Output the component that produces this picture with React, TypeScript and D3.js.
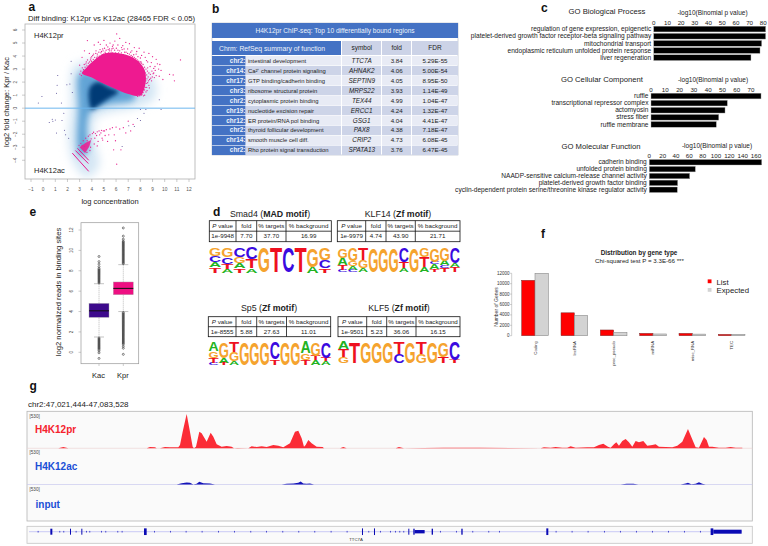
import React from "react";
import * as d3 from "d3";

const SANS = "'Liberation Sans', Arial, sans-serif";

// ---------- panel a ----------
const maXTicks = [-1, 0, 1, 2, 3, 4, 5, 6, 7, 8, 9, 10, 11, 12];
const maYTicks = [-4, -3, -2, -1, 0, 1, 2, 3, 4, 5, 6];
const haloShape: [number, number][] = [[2.5, 3.2], [2.3, 0], [2.1, -2.5], [2.5, -4.2], [3.6, -5.3], [4.6, -4.4], [4.2, -2.4], [4.3, -0.8], [5.6, -0.3], [7.4, 0.0], [9.2, 0.8], [9.0, 2.4], [6, 3.6], [3.6, 3.6]];
const midShape: [number, number][] = [[2.95, 2.6], [2.9, 0], [2.8, -2.8], [3.0, -3.7], [3.7, -3.3], [3.6, -1.6], [3.9, -0.3], [5.2, 0.25], [7.5, 0.65], [7.5, 1.3], [5.2, 2.2], [3.6, 2.8]];
const coreShape: [number, number][] = [[3.85, 1.6], [3.8, 0.4], [4.0, -0.1], [4.7, 0.3], [5.6, 0.85], [6.2, 1.25], [5.4, 1.6], [4.5, 2.0]];
const pinkMass: [number, number][] = [[3.2, 2.68], [4.0, 2.36], [4.68, 2.0], [5.4, 1.7], [6.32, 1.32], [7.0, 1.08], [7.7, 0.94], [8.1, 1.05], [8.45, 2.1], [8.3, 3.05], [7.55, 3.8], [6.57, 4.15], [5.6, 4.28], [4.9, 4.15], [4.1, 3.6], [3.5, 3.05]];
const pinkLowMass: [number, number][] = [[3.0, -3.0], [3.5, -2.65], [3.95, -2.45], [3.8, -2.95], [3.45, -3.45]];
const pinkStripes: [number, number, number, number][] = [[2.4, -3.45, 3.75, -4.85], [2.65, -3.25, 3.72, -4.25], [2.82, -3.08, 3.75, -4.0]];
const pinkSparse: [number, number][] = [[3.64, 5.19], [6.05, 5.7], [4.54, 5.06], [5.0, 5.2], [5.5, 5.0], [5.9, 5.15], [6.3, 5.35], [6.8, 5.05], [7.1, 4.95], [4.2, 4.85], [4.7, 4.9], [5.2, 4.85], [5.7, 4.75], [6.55, 4.8], [7.5, 4.65], [7.9, 4.6], [8.3, 4.3], [8.7, 4.2], [9.0, 3.95], [9.3, 3.75], [9.6, 3.35], [9.1, 3.05], [8.8, 3.2], [8.5, 3.65], [8.1, 4.05], [7.7, 4.35], [3.4, 4.4], [3.2, 3.9], [3.0, 3.3], [3.8, 4.2], [4.0, 3.95], [4.35, 4.4], [4.9, 4.55], [5.35, 4.5], [5.75, 4.6], [6.15, 4.45], [6.45, 4.65], [6.95, 4.55], [7.3, 4.4], [7.65, 4.15], [8.0, 3.85], [8.4, 3.9], [8.9, 3.5], [9.2, 3.2], [9.5, 3.0], [9.05, 2.65], [8.6, 3.1], [8.85, 2.3], [9.3, 2.5], [10.4, 2.6], [10.8, 2.1], [10.7, 2.55], [11.3, 3.7], [8.55, 1.35], [8.7, 1.75], [8.35, 1.0], [8.15, 1.2], [7.95, 0.95], [8.45, 2.1], [8.25, 1.55], [3.55, 3.55], [3.9, 3.7], [4.15, 4.15], [4.45, 4.0], [4.75, 4.25], [5.1, 4.3], [5.45, 4.4], [5.65, 4.55], [6.2, 4.25], [6.7, 4.3], [7.2, 4.3], [7.45, 4.1], [7.8, 3.95], [8.05, 3.55], [8.6, 3.55], [8.95, 2.85], [9.15, 2.35], [9.4, 3.4], [9.7, 2.9], [9.85, 2.2], [9.55, 2.45]];
const pinkFringe: [number, number][] = [[3.02, 2.62], [3.1, 2.85], [3.15, 2.5], [3.22, 3.1], [3.28, 2.72], [3.32, 2.95], [3.38, 3.35], [3.45, 3.15], [3.5, 2.85], [3.52, 3.4], [3.6, 3.25], [3.65, 3.7], [3.72, 3.45], [3.78, 3.15], [3.82, 3.55], [3.88, 3.3], [3.93, 3.85], [3.98, 3.6], [4.04, 3.35], [4.08, 4.05], [4.12, 3.75], [4.18, 3.55], [4.24, 3.9], [4.3, 3.65], [4.33, 4.2], [4.4, 3.85], [4.46, 4.15], [4.52, 3.8], [4.58, 4.3], [4.62, 4.0], [4.68, 4.5], [4.72, 3.95], [4.8, 4.35], [4.86, 4.1], [4.93, 4.4], [4.98, 4.15], [5.05, 4.6], [5.12, 4.2], [5.18, 4.45], [5.26, 4.15], [5.32, 4.7], [5.38, 4.25], [5.46, 4.55], [5.52, 4.2], [5.6, 4.4], [5.68, 4.25], [5.76, 4.85], [5.82, 4.2], [5.88, 4.45], [5.96, 4.25], [6.02, 4.6], [6.08, 4.15], [6.15, 4.85], [6.22, 4.1], [6.3, 4.4], [6.38, 4.1], [6.44, 4.25], [6.5, 4.5], [6.6, 4.1], [6.66, 4.55], [6.74, 4.05], [6.82, 4.3], [6.88, 3.95], [6.95, 4.2], [7.02, 3.9], [7.1, 4.15], [7.16, 3.8], [7.24, 4.05], [7.3, 3.75], [7.36, 3.95], [7.42, 3.75], [7.5, 3.9], [7.55, 3.55], [7.62, 3.8], [7.68, 3.45], [7.74, 3.7], [7.8, 3.35], [7.86, 3.6], [7.92, 3.3], [7.98, 3.55], [8.04, 3.2], [8.1, 3.45], [8.16, 3.05], [8.22, 3.35], [8.28, 2.9], [8.34, 3.15], [8.4, 2.7], [8.46, 3.0], [8.52, 2.55], [8.58, 2.85], [8.64, 2.4], [8.7, 2.7], [8.76, 2.2], [8.82, 2.6], [8.2, 2.6], [8.25, 2.3], [8.3, 2.05], [8.36, 2.5], [8.4, 2.25], [8.48, 1.9], [8.54, 2.25], [8.6, 1.95], [8.66, 2.1], [8.74, 1.55], [8.15, 2.0], [8.2, 1.75], [8.28, 1.8], [8.34, 1.4], [8.4, 1.6], [8.46, 1.25], [8.52, 1.6], [8.08, 1.4], [8.14, 1.55], [8.0, 1.15], [8.06, 1.0], [7.9, 1.05], [8.12, 1.05], [8.22, 1.2], [7.78, 0.9], [8.25, 0.95], [8.92, 2.1], [8.98, 2.4], [9.1, 2.7], [9.22, 2.9]];
const pinkLowFringe: [number, number][] = [[2.95, -2.85], [3.1, -2.7], [3.2, -2.85], [3.3, -2.5], [3.4, -2.95], [3.5, -2.3], [3.62, -2.5], [3.72, -2.15], [3.85, -2.05], [3.95, -2.35], [4.05, -1.95], [4.15, -1.85], [4.25, -2.3], [4.3, -1.95], [4.4, -2.1], [4.45, -1.82], [4.52, -2.55], [4.6, -1.75], [4.65, -2.05], [4.75, -1.9], [4.8, -1.7], [4.85, -2.3], [4.95, -1.75], [5.05, -1.75], [5.1, -2.1], [5.2, -1.65], [5.3, -2.55], [5.4, -2.05], [5.5, -1.6], [5.7, -1.5], [5.85, -2.05], [6.0, -1.45], [6.3, -1.6], [6.6, -1.5], [6.8, -1.9], [7.0, -1.0], [7.2, -1.75], [7.4, -1.25], [5.8, -3.2], [6.05, -4.3], [6.4, -3.2], [5.95, -2.5], [4.2, -2.75], [3.9, -3.0], [3.6, -3.4], [3.85, -3.25], [4.45, -2.9], [4.9, -2.45]];
const darkX = [-0.4, -0.1, 0.5, 0.75, 0.8, 1.0, 1.1, 1.1, 1.15, 1.2, 1.7, 1.75, 1.85, 1.95, 2.2, 2.3, 2.4, 2.3, 2.1, 1.5, 1.55, 8.0, 8.0, 8.45, 8.3, 7.75, 7.5, 9.55, 9.7, 6.5, 7.05];
const darkY = [0.4, 0.9, -1.1, -0.85, -1.0, -0.9, -1.9, 1.15, 1.75, 2.5, -0.4, -1.7, -2.05, 1.8, 1.85, 2.65, 1.2, 3.6, -2.3, 0.4, -0.95, -0.1, -0.95, -0.1, -0.4, -0.8, -1.4, 0.65, -0.1, -2.95, -1.35];

// ---------- panel b ----------
const tableTitle = "H4K12pr ChIP-seq: Top 10 differentially bound regions";
const chrm = ["chr2:", "chr14:", "chr17:", "chr3:", "chr2:", "chr19:", "chr12:", "chr2:", "chr14:", "chr2:"];
const functions = ["intestinal development", "Ca²⁺ channel protein signaling", "GTP binding/cadherin binding", "ribosome structural protein", "cytoplasmic protein binding", "nucleotide excision repair", "ER protein/RNA pol binding", "thyroid follicular development", "smooth muscle cell diff.", "Rho protein signal transduction"];
const symbols = ["TTC7A", "AHNAK2", "SEPTIN9", "MRPS22", "TEX44", "ERCC1", "GSG1", "PAX8", "CRIP2", "SPATA13"];
const folds = ["3.84", "4.06", "4.05", "3.93", "4.99", "4.24", "4.04", "4.38", "4.73", "3.76"];
const fdrs = ["5.29E-55", "5.00E-54", "8.95E-50", "1.14E-49", "1.04E-47", "1.32E-47", "4.41E-47", "7.18E-47", "6.08E-45", "6.47E-45"];

// ---------- panel c ----------
const bpLabels = ["regulation of gene expression, epigenetic", "platelet-derived growth factor receptor-beta signaling pathway", "mitochondrial transport", "endoplasmic reticulum unfolded protein response", "liver regeneration"];
const bpValues = [81.7, 81.7, 78.8, 77.6, 71];
const bpTicks = [0, 10, 20, 30, 40, 50, 60, 70, 80];
const ccLabels = ["ruffle", "transcriptional repressor complex", "actomyosin", "stress fiber", "ruffle membrane"];
const ccValues = [77, 53.4, 51.8, 47.4, 45.7];
const ccTicks = [0, 10, 20, 30, 40, 50, 60, 70];
const mfLabels = ["cadherin binding", "unfolded protein binding", "NAADP-sensitive calcium-release channel activity", "platelet-derived growth factor binding", "cyclin-dependent protein serine/threonine kinase regulator activity"];
const mfValues = [168.5, 69, 60.5, 42.5, 42];
const mfTicks = [0, 20, 40, 60, 80, 100, 120, 140, 160];

// ---------- panel e ----------
const boxNames = ["Kac", "Kpr"];
const boxQ1 = [3.43, 5.65];
const boxMed = [4.07, 6.27];
const boxQ3 = [4.8, 6.9];
const boxLow = [1.5, 4.0];
const boxHigh = [6.73, 8.6];
const kacOutliers = [9.4, 8.9, 8.65, 8.4, 8.2, 8.1, 8.0, 7.9, 7.8, 7.7, 7.6, 7.5, 7.4, 7.3, 7.2, 7.1, 7.0, 6.9, 6.8, 1.4, 1.3, 1.2, 1.1, 1.0, 0.9, 0.8, 0.7, 0.6, 0.5, 0.4, 0.3, 0.15, -0.05, -0.6];
const kprOutliers = [12.2, 11.4, 11.1, 10.9, 10.8, 10.7, 10.6, 10.5, 10.4, 10.3, 10.2, 10.1, 10.0, 9.9, 9.8, 9.7, 9.6, 9.5, 9.4, 9.3, 9.2, 9.1, 9.0, 8.9, 8.8, 8.7, 3.9, 3.8, 3.7, 3.6, 3.5, 3.4, 3.3, 3.2, 3.1, 3.0, 2.9, 2.8, 2.7, 2.6, 2.5, 2.4, 2.3, 2.2, 2.1, 2.0, 1.9, 1.8, 1.7, 1.6, 1.5, 1.4, 1.3, 1.2, 1.1, 1.0, 0.9, 0.8, 0.6, 0.4, -0.2];
const boxTicks = [0, 2, 4, 6, 8, 10, 12];

// ---------- panel d ----------
const motifHeads = ["P value", "fold", "% targets", "% background"];
const motif1Row = ["1e-9948", "7.70", "37.70", "16.99"];
const motif2Row = ["1e-9979", "4.74", "43.90", "21.71"];
const motif3Row = ["1e-8555", "5.88", "27.63", "11.01"];
const motif4Row = ["1e-9501", "5.23", "36.06", "16.15"];
type Col = [string, number][];
const logo1: Col[] = [
  [["T", .21], ["A", .21], ["C", .24], ["G", .34]], [["A", .14], ["T", .2], ["C", .28], ["G", .38]],
  [["T", .17], ["A", .2], ["G", .27], ["C", .36]], [["A", .17], ["T", .36], ["C", .47]],
  [["G", 1]], [["T", 1]], [["C", 1]], [["T", 1]], [["A", .24], ["G", .76]], [["T", .18], ["C", .33], ["G", .49]],
];
const logo2: Col[] = [
  [["C", .08], ["T", .2], ["A", .32], ["G", .4]], [["C", .08], ["A", .17], ["G", .2], ["G", .55]], [["A", .15], ["G", .35], ["T", .5]],
  [["G", 1]], [["G", 1]], [["G", 1]], [["A", .15], ["T", .25], ["C", .6]], [["G", 1]],
  [["A", .2], ["T", .42], ["G", .38]], [["T", .12], ["A", .2], ["C", .1], ["G", .58]], [["T", .15], ["C", .12], ["A", .2], ["G", .53]], [["T", .2], ["A", .15], ["C", .65]],
];
const logo3: Col[] = [
  [["C", .1], ["T", .2], ["G", .3], ["A", .4]], [["T", .1], ["A", .2], ["G", .7]], [["A", .15], ["G", .4], ["T", .45]],
  [["G", 1]], [["G", 1]], [["G", 1]], [["T", .25], ["C", .75]], [["G", 1]], [["G", 1]],
  [["T", .2], ["G", .3], ["A", .5]], [["A", .2], ["T", .2], ["G", .6]], [["A", .15], ["T", .15], ["C", .7]],
];
const logo4: Col[] = [
  [["G", .3], ["T", .35], ["A", .35]], [["T", 1]], [["G", 1]], [["G", 1]], [["G", 1]], [["C", .45], ["T", .55]],
  [["G", 1]], [["G", .45], ["T", .55]], [["G", 1]], [["T", .3], ["G", .7]], [["T", .15], ["C", .85]],
];
const baseColor: Record<string, string> = { G: "#f5a32e", A: "#22b322", C: "#3a0ae0", T: "#ee1020" };

// ---------- panel f ----------
const geneTypes = ["Coding", "lncRNA", "proc_pseudo", "miRNA", "misc_RNA", "TEC"];
const listCounts = [10650, 4400, 1100, 450, 450, 250];
const expectedCounts = [12000, 3900, 620, 330, 300, 250];
const fTicks = [0, 2000, 4000, 6000, 8000, 10000, 12000];

// ---------- panel g ----------
const redBins = [175, 190, 205, 440, 450, 465, 470, 480, 495, 510, 535, 540, 548, 560, 568, 578, 582, 588, 598, 605, 620, 632, 640, 650, 665, 680, 695, 702, 712, 745, 755, 770, 785, 800, 820, 835, 850, 870, 885, 895, 905, 912, 917, 925, 935, 950, 968, 972, 1020, 1030, 1040, 1187, 1197, 1212, 1332, 1380, 1437, 1622, 1632, 1652, 1667, 1687, 1702, 1712, 1727, 1762, 1782, 1797, 1810, 1824, 1832, 1842, 1849, 1857, 1867, 1877, 1887, 1897, 1907, 1917, 1930, 1942, 1957, 1967, 1977, 2017, 2032, 2047, 2064, 2080, 2087, 2097, 2112, 2120, 2127, 2137, 2157, 2177, 2192, 2207, 2227];
const redValues = [0, 4, 0, 0, 4, 3, 0, 0, 4, 3, 3, 10, 50, 103, 60, 5, 0, 5, 50, 45, 20, 47, 35, 12, 5, 7, 5, 0, 1, 0, 6, 4, 6, 4, 10, 8, 3, 15, 50, 53, 30, 5, 10, 25, 15, 5, 4, 0, 0, 4, 0, 0, 4, 0, 2, 2, 2, 0, 3, 2, 4, 2, 2, 6, 2, 3, 3, 10, 14, 5, 2, 12, 18, 8, 22, 28, 18, 5, 22, 18, 22, 8, 10, 12, 5, 3, 8, 20, 58, 20, 3, 2, 34, 25, 5, 5, 2, 2, 4, 2, 2];
const blueBins = [530, 545, 560, 570, 580, 590, 598, 610, 630, 645, 845, 860, 880, 895, 902, 910, 920, 930, 942, 1862, 1880, 1900, 1915, 2042, 2057, 2064, 2074, 2087, 2097, 2107, 2117];
const blueValues = [0, 4, 6, 5, 0, 2, 8, 4, 3, 0, 0, 2, 3, 5, 9, 3, 2, 3, 0, 0, 2, 2, 0, 0, 3, 5, 1, 2, 7, 2, 0];
const geneTicks = [113, 178, 190, 227, 258, 268, 303, 316, 352, 365, 462, 510, 557, 605, 654, 702, 751, 798, 847, 895, 943, 992, 1040, 1105, 1140, 1170, 1185, 1198, 1210, 1320, 1368, 1417, 1465, 1497, 1667, 1715, 1763, 1812, 1860, 1908, 1956, 2004, 2052, 2100];
const geneExons: [number, number, number][] = [[151, 6, 18], [210, 3, 18], [244, 3, 18], [432, 8, 20], [1086, 3, 20], [1122, 3, 20], [1225, 3, 18], [1240, 4, 18], [1244, 30, 10], [1295, 4, 18], [1384, 4, 18], [1639, 6, 20], [2132, 8, 20], [2140, 85, 12]];

function Text(p: any) {
  return <text fontFamily={SANS} fill="#222" {...p} />;
}

function PanelLetter({ x, y, t }: { x: number; y: number; t: string }) {
  return <Text x={x} y={y} fontSize={12} fontWeight="bold" fill="#111">{t}</Text>;
}

function PanelA() {
  const x = d3.scaleLinear().domain([-1, 12]).range([31, 189]);
  const y = d3.scaleLinear().domain([-5, 6]).range([173.3, 30]);
  const shape = d3.line<[number, number]>().x(d => x(d[0])).y(d => y(d[1])).curve(d3.curveCatmullRomClosed);
  const poly = d3.line<[number, number]>().x(d => x(d[0])).y(d => y(d[1])).curve(d3.curveLinearClosed);
  const pink = "#ee1a90";
  return (
    <g>
      <defs>
        <clipPath id="maClip"><rect x={25} y={24} width={170} height={155} /></clipPath>
        <filter id="blurBig" x="-30%" y="-30%" width="160%" height="160%"><feGaussianBlur stdDeviation={5} /></filter>
        <filter id="blurMid" x="-30%" y="-30%" width="160%" height="160%"><feGaussianBlur stdDeviation={3} /></filter>
        <filter id="blurCore" x="-50%" y="-50%" width="200%" height="200%"><feGaussianBlur stdDeviation={2.3} /></filter>
      </defs>
      <rect x={25} y={24} width={170} height={155} fill="#fff" stroke="#b0b0b0" strokeWidth={0.8} />
      <g clipPath="url(#maClip)">
        <path d={shape(haloShape)!} fill="#d4e6f4" filter="url(#blurBig)" />
        <path d={shape(midShape)!} fill="#62a4d6" filter="url(#blurMid)" />
        <path d={shape(coreShape)!} fill="#063a76" filter="url(#blurCore)" />
        <line x1={25} x2={195} y1={y(0)} y2={y(0)} stroke="#6cb6ee" strokeWidth={1} />
        <path d={shape(pinkMass)!} fill={pink} />
        <path d={poly(pinkLowMass)!} fill={pink} opacity={0.85} />
        {pinkStripes.map((s, i) => (
          <line key={i} x1={x(s[0])} y1={y(s[1])} x2={x(s[2])} y2={y(s[3])} stroke="#e8188e" strokeWidth={1} />
        ))}
        {pinkSparse.concat(pinkFringe, pinkLowFringe).map((p, i) => <circle key={i} cx={x(p[0])} cy={y(p[1])} r={0.65} fill="#e8228f" />)}
        {darkX.map((v, i) => <circle key={i} cx={x(v)} cy={y(darkY[i])} r={0.5} fill="#4a3f8f" />)}
      </g>
      {maXTicks.map(t => (
        <g key={t}>
          <line x1={x(t)} x2={x(t)} y1={179} y2={182} stroke="#999" strokeWidth={0.5} />
          <Text x={x(t)} y={191} fontSize={4.8} textAnchor="middle" fill="#555">{t === -1 ? "−1" : t}</Text>
        </g>
      ))}
      {maYTicks.map(t => (
        <g key={t}>
          <line x1={22} x2={25} y1={y(t)} y2={y(t)} stroke="#999" strokeWidth={0.5} />
          <Text transform={`translate(16.5,${y(t)}) rotate(-90)`} fontSize={4.8} textAnchor="middle" fill="#555">{t < 0 ? `−${-t}` : t}</Text>
        </g>
      ))}
      <Text x={28} y={21} fontSize={7.7}>Diff binding: K12pr vs K12ac (28465 FDR &lt; 0.05)</Text>
      <Text transform="translate(9,102) rotate(-90)" fontSize={7.5} textAnchor="middle">log2 fold change: Kpr / Kac</Text>
      <Text x={110} y={204} fontSize={7.5} textAnchor="middle">log concentration</Text>
      <Text x={34} y={38} fontSize={7.5}>H4K12pr</Text>
      <Text x={34} y={173} fontSize={7.5}>H4K12ac</Text>
    </g>
  );
}

function PanelB() {
  const rowY = d3.scaleBand<number>().domain(d3.range(chrm.length)).range([56, 155]).paddingInner(0.06);
  const blue = "#4472c4";
  return (
    <g>
      <rect x={212} y={23} width={246} height={132} fill="#fff" stroke="#9fa6b8" strokeWidth={0.5} />
      <rect x={212} y={23} width={246} height={15} fill={blue} />
      <Text x={335} y={33} fontSize={6.6} textAnchor="middle" fill="#eef2fa">{tableTitle}</Text>
      <rect x={212} y={41} width={129} height={14} fill={blue} />
      <Text x={219} y={50.6} fontSize={6.8} fill="#eef2fa">Chrm: RefSeq summary of function</Text>
      {[[342, 381, "symbol", 361.7], [382, 411, "fold", 396.7], [412, 458, "FDR", 435]].map(([a, b, t, c]: any) => (
        <g key={t}>
          <rect x={a} y={41} width={b - a} height={14} fill="#ccd3e7" />
          <Text x={c} y={50.4} fontSize={6.5} textAnchor="middle">{t}</Text>
        </g>
      ))}
      {chrm.map((c, i) => {
        const ty = rowY(i)!;
        const h = rowY.bandwidth();
        const mid = ty + h / 2 + 2.1;
        const bg = i % 2 ? "#cdd4e8" : "#e8ebf5";
        return (
          <g key={i}>
            <rect x={212} y={ty} width={33.5} height={h} fill={blue} />
            <rect x={246} y={ty} width={95} height={h} fill={bg} />
            <rect x={342} y={ty} width={39} height={h} fill={bg} />
            <rect x={382} y={ty} width={29} height={h} fill={bg} />
            <rect x={412} y={ty} width={46} height={h} fill={bg} />
            <Text x={245.5} y={mid} fontSize={6.4} fontWeight="bold" textAnchor="end" fill="#eef2fa">{c}</Text>
            <Text x={248} y={mid} fontSize={5.85}>{functions[i]}</Text>
            <Text x={361.7} y={mid} fontSize={6.4} fontStyle="italic" textAnchor="middle">{symbols[i]}</Text>
            <Text x={396.7} y={mid} fontSize={6.2} textAnchor="middle">{folds[i]}</Text>
            <Text x={435} y={mid} fontSize={6.2} textAnchor="middle">{fdrs[i]}</Text>
          </g>
        );
      })}
    </g>
  );
}

function GoChart({ labels, values, ticks, x0, pxPerUnit, top, bottom, tickY, title, titleX, titleY, axX, axY }: any) {
  const x = d3.scaleLinear().domain([0, 1]).range([x0, x0 + pxPerUnit]);
  const y = d3.scaleBand<string>().domain(labels).range([top, bottom]).paddingInner(0.2);
  return (
    <g>
      <Text x={titleX} y={titleY} fontSize={7.7} textAnchor="middle">{title}</Text>
      <Text x={axX} y={axY} fontSize={6.5} textAnchor="middle">-log10(Binomial p value)</Text>
      {ticks.map((t: number) => <Text key={t} x={x(t)} y={tickY} fontSize={6.2} textAnchor="middle">{t}</Text>)}
      {labels.map((l: string, i: number) => (
        <g key={l}>
          <rect x={x(0)} y={y(l)!} width={x(values[i]) - x(0)} height={y.bandwidth()} fill="#000" stroke="#aaa" strokeWidth={0.4} />
          <Text x={x(0) - 2.5} y={y(l)! + y.bandwidth() / 2 + 2.2} fontSize={6.6} textAnchor="end">{l}</Text>
        </g>
      ))}
    </g>
  );
}

function PanelE() {
  const y = d3.scaleLinear().domain([0, 12]).range([352.3, 230]);
  const x = d3.scalePoint<string>().domain(boxNames).range([99, 123.3]);
  const outliers = [kacOutliers, kprOutliers];
  return (
    <g>
      <rect x={81} y={222.7} width={57.7} height={141} fill="#fff" stroke="#999" strokeWidth={0.7} />
      {boxTicks.map(t => (
        <g key={t}>
          <line x1={78.5} x2={81} y1={y(t)} y2={y(t)} stroke="#999" strokeWidth={0.5} />
          <Text transform={`translate(73,${y(t)}) rotate(-90)`} fontSize={4.6} textAnchor="middle" fill="#444">{t}</Text>
        </g>
      ))}
      <Text transform="translate(61,292) rotate(-90)" fontSize={7.7} textAnchor="middle">log2 normalized reads in binding sites</Text>
      {boxNames.map((n, i) => {
        const cx = x(n)!;
        const fill = i === 0 ? "#3d0a8c" : "#ee0f82";
        return (
          <g key={n}>
            <line x1={cx} x2={cx} y1={y(boxHigh[i])} y2={y(boxLow[i])} stroke="#777" strokeWidth={0.5} strokeDasharray="1 1" />
            <line x1={cx - 5} x2={cx + 5} y1={y(boxHigh[i])} y2={y(boxHigh[i])} stroke="#aaa" strokeWidth={0.7} />
            <line x1={cx - 5} x2={cx + 5} y1={y(boxLow[i])} y2={y(boxLow[i])} stroke="#aaa" strokeWidth={0.7} />
            <rect x={cx - 10} y={y(boxQ3[i])} width={20} height={y(boxQ1[i]) - y(boxQ3[i])} fill={fill} stroke="#aaa" strokeWidth={0.4} />
            <line x1={cx - 10} x2={cx + 10} y1={y(boxMed[i])} y2={y(boxMed[i])} stroke="#111" strokeWidth={1} />
            {outliers[i].map((v, j) => <circle key={j} cx={cx} cy={y(v)} r={1} fill="none" stroke="#222" strokeWidth={0.55} />)}
            <line x1={cx} x2={cx} y1={363.7} y2={366} stroke="#999" strokeWidth={0.5} />
            <Text x={cx - 0.5} y={378} fontSize={7.5} textAnchor="middle">{n}</Text>
          </g>
        );
      })}
    </g>
  );
}

const LETTER_W: Record<string, number> = { G: 7.78, A: 7.22, C: 7.22, T: 6.11 };

function Logo({ cols, x0, x1, y0, y1 }: { cols: Col[]; x0: number; x1: number; y0: number; y1: number }) {
  const x = d3.scaleBand<number>().domain(d3.range(cols.length)).range([x0, x1]);
  const h = d3.scaleLinear().domain([0, 1]).range([0, y1 - y0]);
  return (
    <g>
      {cols.map((col, i) => {
        let base = y1;
        return col.map(([b, frac], j) => {
          const ht = h(frac);
          const yb = base;
          base -= ht;
          const sx = x.bandwidth() / LETTER_W[b];
          const sy = ht / 7.3;
          return (
            <text key={j} transform={`translate(${x(i)! + x.bandwidth() / 2},${yb - ht * 0.01}) scale(${sx},${sy})`}
              fontFamily={SANS} fontWeight="bold" fontSize={10} textAnchor="middle" fill={baseColor[b]}>{b}</text>
          );
        });
      })}
    </g>
  );
}

function MotifTable({ x, y, cols, row, h }: { x: number[]; y: number; cols: string[]; row: string[]; h: number }) {
  const bottom = y + h;
  return (
    <g>
      <rect x={x[0]} y={y} width={x[4] - x[0]} height={h} fill="#fff" stroke="#111" strokeWidth={0.8} />
      <line x1={x[0]} x2={x[4]} y1={y + h / 2} y2={y + h / 2} stroke="#111" strokeWidth={0.8} />
      {[1, 2, 3].map(i => <line key={i} x1={x[i]} x2={x[i]} y1={y} y2={bottom} stroke="#111" strokeWidth={0.8} />)}
      {cols.map((c, i) => {
        const cx = (x[i] + x[i + 1]) / 2;
        return (
          <g key={i}>
            <Text x={cx} y={y + h / 4 + 2} fontSize={6.2} textAnchor="middle">
              {i === 0 ? <><tspan fontStyle="italic">P</tspan> value</> : c}
            </Text>
            <Text x={cx} y={y + (3 * h) / 4 + 2} fontSize={6.2} textAnchor="middle">{row[i]}</Text>
          </g>
        );
      })}
    </g>
  );
}

function MotifTitle({ x, y, name, fam }: { x: number; y: number; name: string; fam: string }) {
  return (
    <Text x={x} y={y} fontSize={8.8} textAnchor="middle">
      {name} (<tspan fontWeight="bold">{fam} motif</tspan>)
    </Text>
  );
}

function PanelD() {
  return (
    <g>
      <MotifTitle x={270} y={217} name="Smad4" fam="MAD" />
      <MotifTitle x={398} y={217} name="KLF14" fam="Zf" />
      <MotifTitle x={269} y={311} name="Sp5" fam="Zf" />
      <MotifTitle x={399} y={311} name="KLF5" fam="Zf" />
      <MotifTable x={[209.3, 236, 256.7, 286, 331.3]} y={220.7} h={21} cols={motifHeads} row={motif1Row} />
      <MotifTable x={[337.3, 365.7, 386, 415.3, 460]} y={220.7} h={21} cols={motifHeads} row={motif2Row} />
      <MotifTable x={[208.3, 236, 256.7, 286.5, 330.7]} y={316.7} h={20} cols={motifHeads} row={motif3Row} />
      <MotifTable x={[338, 366.7, 386.7, 416, 460]} y={316.7} h={20} cols={motifHeads} row={motif4Row} />
      <Logo cols={logo1} x0={209} x1={331} y0={247.7} y1={272.7} />
      <Logo cols={logo2} x0={337.5} x1={460} y0={248} y1={272} />
      <Logo cols={logo3} x0={208.5} x1={331} y0={341.7} y1={365} />
      <Logo cols={logo4} x0={338} x1={460} y0={341.7} y1={363.5} />
    </g>
  );
}

function PanelF() {
  const y = d3.scaleLinear().domain([0, 12000]).range([335.7, 273.3]);
  const x = (i: number) => 521.7 + i * 39.33;
  const w = 13.3;
  return (
    <g>
      <Text x={639} y={255} fontSize={6.4} fontWeight="bold" textAnchor="middle">Distribution by gene type</Text>
      <Text x={639.5} y={262.5} fontSize={6.2} textAnchor="middle">Chi-squared test P = 3.3E-66 ***</Text>
      <line x1={511.7} x2={511.7} y1={y(0)} y2={y(12000)} stroke="#888" strokeWidth={0.4} />
      {fTicks.map(t => (
        <g key={t}>
          <line x1={510} x2={511.7} y1={y(t)} y2={y(t)} stroke="#888" strokeWidth={0.4} />
          <Text x={509.5} y={y(t) + 1.5} fontSize={4.5} textAnchor="end" fill="#333">{t}</Text>
        </g>
      ))}
      <Text transform="translate(497.5,307) rotate(-90)" fontSize={5} textAnchor="middle" fill="#333">Number of Genes</Text>
      {geneTypes.map((g, i) => (
        <g key={g}>
          <rect x={x(i)} y={y(listCounts[i])} width={w} height={y(0) - y(listCounts[i])} fill="#ff0000" stroke="#7a2a2a" strokeWidth={0.5} />
          <rect x={x(i) + w} y={y(expectedCounts[i])} width={w} height={y(0) - y(expectedCounts[i])} fill="#d3d3d3" stroke="#8a8a8a" strokeWidth={0.6} />
          <Text transform={`translate(${x(i) + w + 1.5},341) rotate(-90)`} fontSize={4.3} textAnchor="end" fill="#333">{g}</Text>
        </g>
      ))}
      <rect x={707.7} y={279.4} width={3.8} height={3.8} fill="#ff0000" />
      <rect x={707.7} y={288} width={3.8} height={3.8} fill="#d3d3d3" />
      <Text x={716.5} y={284.5} fontSize={7.8}>List</Text>
      <Text x={716.5} y={293} fontSize={7.8}>Expected</Text>
    </g>
  );
}

function PanelG() {
  const x = d3.scaleLinear().domain([81, 2257]).range([27, 752.3]);
  const h = d3.scaleLinear().domain([0, 111]).range([0, 37]);
  const track = (bins: number[], vals: number[], base: number) =>
    d3.area<number>().x(d => x(d)).y0(base).y1((_, i) => base - h(vals[i]))(bins)!;
  return (
    <g>
      <Text x={28} y={407} fontSize={8}>chr2:47,021,444-47,083,528</Text>
      <rect x={27} y={411.3} width={725.3} height={109.7} fill="#fafafa" stroke="#b5b5b5" strokeWidth={0.8} />
      <line x1={27} x2={752.3} y1={448.3} y2={448.3} stroke="#eed6d6" strokeWidth={0.7} />
      <line x1={27} x2={752.3} y1={484.5} y2={484.5} stroke="#c8c8ee" strokeWidth={0.7} />
      <path d={track(redBins, redValues, 448.3)} fill="#fb2c36" />
      <path d={track(blueBins, blueValues, 484.5)} fill="#1414b8" />
      {[418, 454, 491].map(v => <Text key={v} x={29.5} y={v} fontSize={4.6} fill="#444">[530]</Text>)}
      <Text x={35} y={433} fontSize={10} fontWeight="bold" fill="#f5222d">H4K12pr</Text>
      <Text x={35} y={470} fontSize={10} fontWeight="bold" fill="#1a4fd6">H4K12ac</Text>
      <Text x={35.5} y={508} fontSize={10} fontWeight="bold" fill="#1a4fd6">input</Text>
      <rect x={27} y={526.3} width={725.3} height={17} fill="#fafafa" stroke="#c4c4c4" strokeWidth={0.8} />
      <line x1={29} x2={742} y1={531.7} y2={531.7} stroke="#9a9af0" strokeWidth={0.5} />
      {geneTicks.map(t => <rect key={t} x={x(t)} y={530.9} width={0.9} height={1.6} fill="#3a3ac8" />)}
      {geneExons.map(([s, w, ht], i) => (
        <rect key={i} x={x(s)} y={531.7 - ht / 6} width={(w * 725.3) / 2176} height={ht / 3} fill="#0a0ab4" />
      ))}
      <Text x={356} y={541} fontSize={4.3} textAnchor="middle" fill="#333">TTC7A</Text>
    </g>
  );
}

export default function App() {
  return (
    <svg width={768} height={546} viewBox="0 0 768 546" style={{ position: "absolute", left: 0, top: 0, background: "#fff" }}>
      <PanelLetter x={28.5} y={11} t="a" />
      <PanelLetter x={212} y={13} t="b" />
      <PanelLetter x={541} y={12} t="c" />
      <PanelLetter x={213} y={216} t="d" />
      <PanelLetter x={29.5} y={216} t="e" />
      <PanelLetter x={541} y={238} t="f" />
      <PanelLetter x={29.5} y={390} t="g" />
      <PanelA />
      <PanelB />
      <GoChart labels={bpLabels} values={bpValues} ticks={bpTicks} x0={653.7} pxPerUnit={1.37} top={26.2} bottom={60.5} tickY={25}
        title="GO Biological Process" titleX={607} titleY={14} axX={712.5} axY={14.5} />
      <GoChart labels={ccLabels} values={ccValues} ticks={ccTicks} x0={651} pxPerUnit={1.429} top={93.2} bottom={127.2} tickY={91.5}
        title="GO Cellular Component" titleX={602} titleY={81.5} axX={713} axY={81.5} />
      <GoChart labels={mfLabels} values={mfValues} ticks={mfTicks} x0={649.3} pxPerUnit={0.667} top={159.5} bottom={192.5} tickY={158}
        title="GO Molecular Function" titleX={601} titleY={148.5} axX={717} axY={148} />
      <PanelE />
      <PanelD />
      <PanelF />
      <PanelG />
    </svg>
  );
}
